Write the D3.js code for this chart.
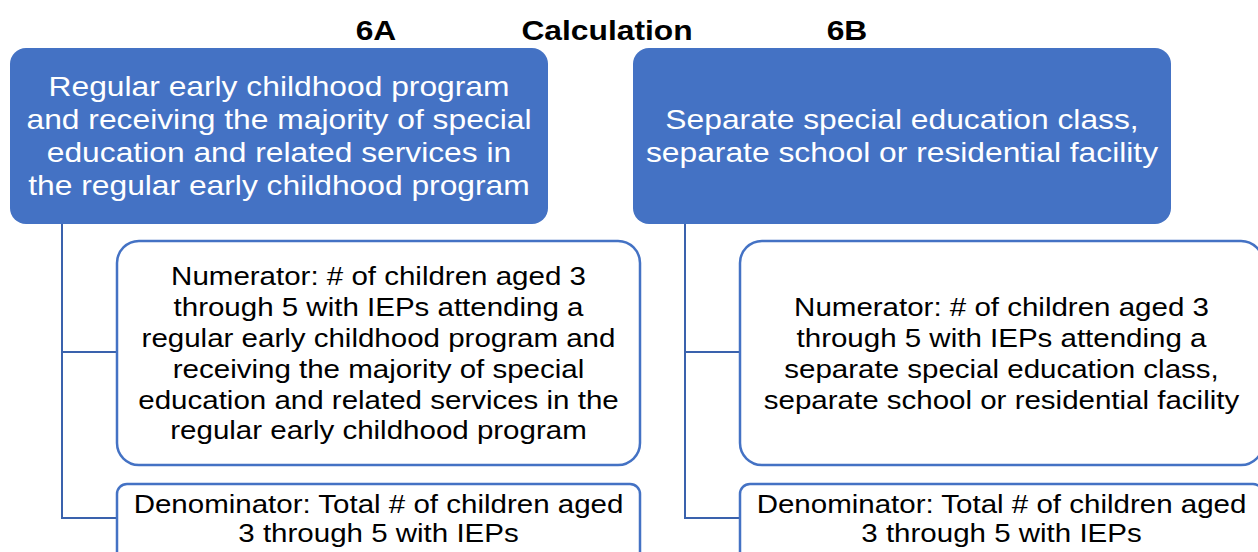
<!DOCTYPE html>
<html><head><meta charset="utf-8">
<script src="https://cdn.jsdelivr.net/npm/d3@7"></script>
<style>body{margin:0;background:#fff}svg{display:block}</style>
</head><body>
<svg id="c" width="1258" height="552"></svg>
<script>
const headers = ["6A", "Calculation", "6B"];
const topTexts = [
  ["Regular early childhood program", "and receiving the majority of special", "education and related services in", "the regular early childhood program"],
  ["Separate special education class,", "separate school or residential facility"]
];
const numTexts = [
  ["Numerator: # of children aged 3", "through 5 with IEPs attending a", "regular early childhood program and", "receiving the majority of special", "education and related services in the", "regular early childhood program"],
  ["Numerator: # of children aged 3", "through 5 with IEPs attending a", "separate special education class,", "separate school or residential facility"]
];
const denTexts = [
  ["Denominator: Total # of children aged", "3 through 5 with IEPs"],
  ["Denominator: Total # of children aged", "3 through 5 with IEPs"]
];

const svg = d3.select("#c");
const font = "'Liberation Sans', Arial, sans-serif";
const blue = "#4472C4";
const lineBlue = "#3a62ad";
const SX = 1.135;

const cols = [0, 1];
const colX = d3.scaleOrdinal().domain(cols).range([10, 633]);
const topW = 538, topY = 48, topH = 176;
const subOff = 107, subW = 523;
const numY = 241, numH = 224, denY = 484, denH = 80;
const trunkOff = 52;

function txt(g, s, cx, cy, size, color, bold) {
  g.append("g").attr("transform", `translate(${cx},${cy}) scale(${SX},1)`)
    .append("text")
    .attr("x", 0).attr("y", 0)
    .attr("text-anchor", "middle")
    .attr("dominant-baseline", "central")
    .style("font-family", font).style("font-size", size + "px")
    .style("font-weight", bold ? "bold" : "normal").style("fill", color)
    .text(s);
}

const hdrG = svg.append("g");
headers.forEach((d, i) => txt(hdrG, d, [376, 607, 847][i], 30, 28, "#000", true));

function lines(g, arr, cx, cy, lh, size, color) {
  const n = arr.length;
  arr.forEach((d, i) => txt(g, d, cx, cy + (i - (n - 1) / 2) * lh, size, color, false));
}

cols.forEach(c => {
  const x0 = colX(c);
  const g = svg.append("g");
  const tx = x0 + trunkOff;
  const numMid = numY + numH / 2 - 1;
  const denMid = denY + 34;
  g.append("path")
    .attr("d", `M${tx},${topY + topH} V${denMid} H${x0 + subOff} M${tx},${numMid} H${x0 + subOff}`)
    .attr("fill", "none").attr("stroke", lineBlue).attr("stroke-width", 2);
  g.append("rect").attr("x", x0).attr("y", topY).attr("width", topW).attr("height", topH)
    .attr("rx", 16).attr("fill", blue);
  lines(g, topTexts[c], x0 + topW / 2, topY + topH / 2, 33, 28, "#fff");
  g.append("rect").attr("x", x0 + subOff).attr("y", numY).attr("width", subW).attr("height", numH)
    .attr("rx", 22).attr("fill", "#fff").attr("stroke", blue).attr("stroke-width", 2.5);
  lines(g, numTexts[c], x0 + subOff + subW / 2, numY + numH / 2 + 0.5, 30.8, 26, "#000");
  g.append("rect").attr("x", x0 + subOff).attr("y", denY).attr("width", subW).attr("height", denH)
    .attr("rx", 10).attr("fill", "#fff").attr("stroke", blue).attr("stroke-width", 2.5);
  lines(g, denTexts[c], x0 + subOff + subW / 2, 518.5, 29, 26, "#000");
});
</script>
</body></html>
